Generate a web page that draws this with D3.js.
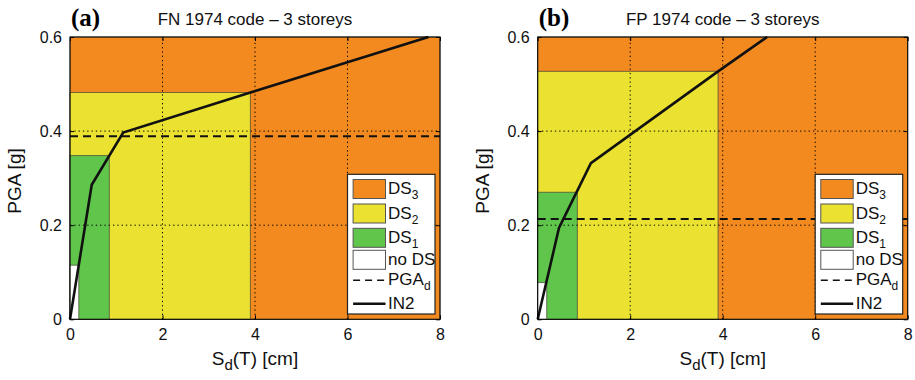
<!DOCTYPE html>
<html>
<head>
<meta charset="utf-8">
<script src="https://cdn.jsdelivr.net/npm/d3@7"></script>
<style>
  body { margin: 0; background: #fff; }
  svg { display: block; font-family: "Liberation Sans", Arial, Helvetica, sans-serif; }
</style>
</head>
<body>
<div id="chart"></div>
<script>
// Panel data
const panelTags = ['(a)', '(b)'];
const panelTitles = ['FN 1974 code \u2013 3 storeys', 'FP 1974 code \u2013 3 storeys'];
const xTicks = [0, 2, 4, 6, 8];
const yTicks = [0, 0.2, 0.4, 0.6];

// damage state regions: upper Sd limit and upper PGA limit (DS3, DS2, DS1, no DS)
const dsNames = ['DS3', 'DS2', 'DS1', 'no DS'];
const dsSdA = [8, 3.9, 0.85, 0.19];
const dsPgaA = [0.6, 0.482, 0.348, 0.115];
const dsSdB = [8, 3.9, 0.857, 0.195];
const dsPgaB = [0.6, 0.527, 0.27, 0.078];

// design PGA
const pgadA = 0.389;
const pgadB = 0.213;

// IN2 curve
const in2SdA = [0, 0.47, 1.15, 3.9, 7.75];
const in2PgaA = [0, 0.286, 0.397, 0.482, 0.6];
const in2SdB = [0, 0.46, 1.15, 3.9, 4.96];
const in2PgaB = [0, 0.194, 0.332, 0.527, 0.6];

const dsColors = ['#f28a20', '#ebe131', '#60c54b', '#ffffff'];

const W = 915, H = 380;
const svg = d3.select('#chart').append('svg')
    .attr('width', W)
    .attr('height', H);

const panels = [
    { left: 70, ds: [dsSdA, dsPgaA], pgad: pgadA, in2: [in2SdA, in2PgaA] },
    { left: 537.7, ds: [dsSdB, dsPgaB], pgad: pgadB, in2: [in2SdB, in2PgaB] }
];
const plotW = 370, plotTop = 37, plotBottom = 319.3;

panels.forEach((p, i) => {
    const x = d3.scaleLinear().domain([0, 8]).range([p.left, p.left + plotW]);
    const y = d3.scaleLinear().domain([0, 0.6]).range([plotBottom, plotTop]);
    const g = svg.append('g');

    // damage state patches, largest first
    const rects = dsNames.map((n, k) => ({ name: n, sd: p.ds[0][k], pga: p.ds[1][k], color: dsColors[k] }));
    g.selectAll('rect.ds')
        .data(rects)
        .join('rect')
        .attr('class', 'ds')
        .attr('x', x(0))
        .attr('y', d => y(d.pga))
        .attr('width', d => x(d.sd) - x(0))
        .attr('height', d => y(0) - y(d.pga))
        .attr('fill', d => d.color)
        .attr('stroke', '#4a4a3a')
        .attr('stroke-opacity', 0.75)
        .attr('stroke-width', 1);

    // dotted grid on top of the patches
    g.selectAll('line.gx')
        .data(xTicks.slice(1, -1))
        .join('line')
        .attr('x1', d => x(d)).attr('x2', d => x(d))
        .attr('y1', y(0)).attr('y2', y(0.6))
        .attr('stroke', '#000').attr('stroke-width', 1)
        .attr('stroke-dasharray', '1.3,3');
    g.selectAll('line.gy')
        .data(yTicks.slice(1, -1))
        .join('line')
        .attr('x1', x(0)).attr('x2', x(8))
        .attr('y1', d => y(d)).attr('y2', d => y(d))
        .attr('stroke', '#000').attr('stroke-width', 1)
        .attr('stroke-dasharray', '1.3,3');

    // PGAd dashed line
    g.append('line')
        .attr('x1', x(0)).attr('x2', x(8))
        .attr('y1', y(p.pgad)).attr('y2', y(p.pgad))
        .attr('stroke', '#111').attr('stroke-width', 2)
        .attr('stroke-dasharray', '8,5');

    // IN2 curve
    const pts = p.in2[0].map((s, k) => [s, p.in2[1][k]]);
    g.append('path')
        .datum(pts)
        .attr('d', d3.line().x(d => x(d[0])).y(d => y(d[1])))
        .attr('fill', 'none')
        .attr('stroke', '#111')
        .attr('stroke-width', 2.6)
        .attr('stroke-linejoin', 'miter');

    // axes frame
    g.append('rect')
        .attr('x', x(0)).attr('y', y(0.6))
        .attr('width', plotW).attr('height', plotBottom - plotTop)
        .attr('fill', 'none').attr('stroke', '#000').attr('stroke-width', 1);

    g.append('g')
        .attr('transform', `translate(0,${plotBottom})`)
        .call(d3.axisBottom(x).tickValues(xTicks).tickSizeInner(-4).tickSizeOuter(0).tickPadding(9).tickFormat(d3.format('d')));
    g.append('g')
        .attr('transform', `translate(${p.left},0)`)
        .call(d3.axisLeft(y).tickValues(yTicks).tickSizeInner(-4).tickSizeOuter(0).tickPadding(8).tickFormat(d => d === 0 ? '0' : d3.format('.1f')(d)));
    g.append('g')
        .attr('transform', `translate(0,${plotTop})`)
        .call(d3.axisTop(x).tickValues(xTicks).tickSizeInner(-4).tickSizeOuter(0).tickFormat(''));
    g.append('g')
        .attr('transform', `translate(${p.left + plotW},0)`)
        .call(d3.axisRight(y).tickValues(yTicks).tickSizeInner(-4).tickSizeOuter(0).tickFormat(''));
    g.selectAll('.domain').remove();
    g.selectAll('.tick text').attr('font-size', 16).attr('fill', '#111')
        .attr('font-family', '"Liberation Sans", Arial, sans-serif');

    // panel tag and title
    g.append('text')
        .attr('x', p.left + 1).attr('y', 26)
        .attr('font-family', '"Liberation Serif", "Times New Roman", serif')
        .attr('font-weight', 'bold')
        .attr('font-size', 25)
        .text(panelTags[i]);
    g.append('text')
        .attr('x', p.left + plotW / 2).attr('y', 25)
        .attr('text-anchor', 'middle')
        .attr('font-size', 17)
        .attr('fill', '#111')
        .text(panelTitles[i]);

    // axis titles
    const xt = g.append('text')
        .attr('x', p.left + plotW / 2).attr('y', 365)
        .attr('text-anchor', 'middle')
        .attr('font-size', 19)
        .attr('fill', '#111');
    xt.append('tspan').text('S');
    xt.append('tspan').attr('font-size', 15).attr('dy', 5).text('d');
    xt.append('tspan').attr('dy', -5).text('(T) [cm]');

    g.append('text')
        .attr('transform', `translate(${p.left - 49},${181})rotate(-90)`)
        .attr('text-anchor', 'middle')
        .attr('font-size', 19)
        .attr('fill', '#111')
        .text('PGA [g]');

    // legend
    const lx = p.left + plotW - 92.5, ly = 174.3;
    const lg = g.append('g').attr('transform', `translate(${lx},${ly})`);
    lg.append('rect')
        .attr('width', 87.5).attr('height', 139.7)
        .attr('fill', '#fff').attr('stroke', '#222').attr('stroke-width', 1.2);
    const rowTop = [5.2, 29.7, 54, 76];
    const patchRows = rects.map((d, k) => ({ ...d, y0: rowTop[k] }));
    const item = lg.selectAll('g.item').data(patchRows).join('g').attr('class', 'item');
    item.append('rect')
        .attr('x', 5.6).attr('y', d => d.y0)
        .attr('width', 32.4).attr('height', 19)
        .attr('fill', d => d.color)
        .attr('stroke', '#555').attr('stroke-width', 1);
    item.each(function(d) {
        const t = d3.select(this).append('text')
            .attr('x', 40.5).attr('y', d.y0 + 15)
            .attr('font-size', 17).attr('fill', '#111');
        if (d.name.startsWith('DS')) {
            t.append('tspan').text('DS');
            t.append('tspan').attr('font-size', 12).attr('dy', 5).text(d.name.slice(2));
        } else {
            t.text(d.name);
        }
    });
    lg.append('line')
        .attr('x1', 5.6).attr('x2', 38).attr('y1', 106).attr('y2', 106)
        .attr('stroke', '#111').attr('stroke-width', 1.5)
        .attr('stroke-dasharray', '7,5');
    const pt = lg.append('text').attr('x', 40.5).attr('y', 111).attr('font-size', 17).attr('fill', '#111');
    pt.append('tspan').text('PGA');
    pt.append('tspan').attr('font-size', 12).attr('dy', 5).text('d');
    lg.append('line')
        .attr('x1', 5.6).attr('x2', 38).attr('y1', 129.5).attr('y2', 129.5)
        .attr('stroke', '#111').attr('stroke-width', 2.6);
    lg.append('text').attr('x', 40.5).attr('y', 135).attr('font-size', 17).attr('fill', '#111').text('IN2');
});
</script>
</body>
</html>
